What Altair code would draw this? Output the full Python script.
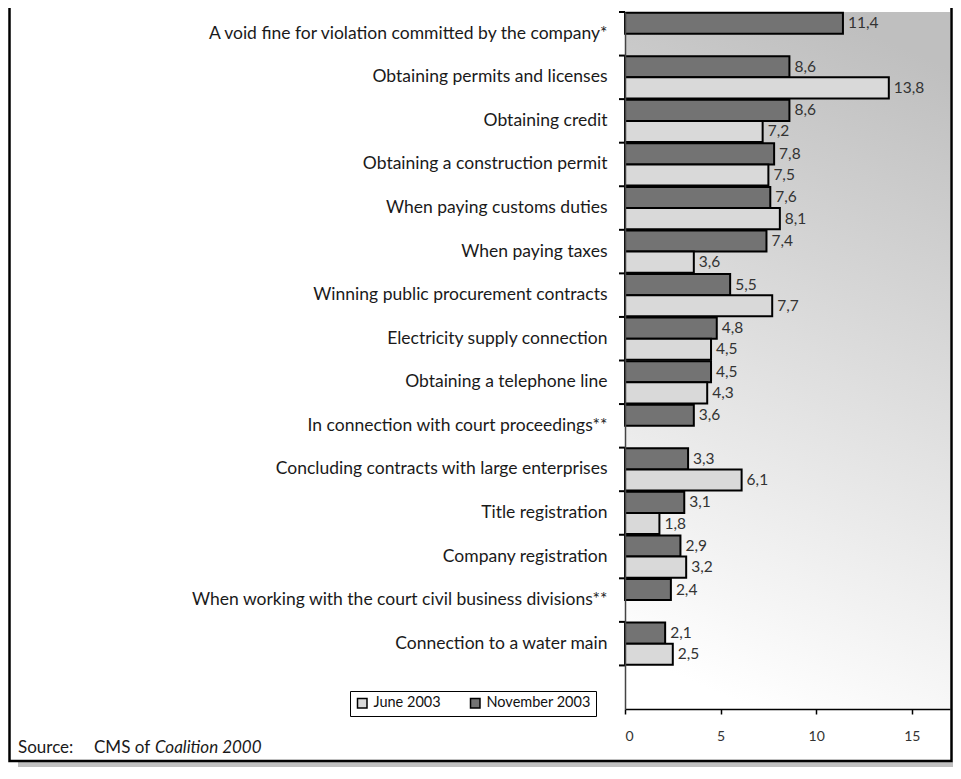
import altair as alt
import pandas as pd

categories = [
    "A void fine for violation committed by the company*",
    "Obtaining permits and licenses",
    "Obtaining credit",
    "Obtaining a construction permit",
    "When paying customs duties",
    "When paying taxes",
    "Winning public procurement contracts",
    "Electricity supply connection",
    "Obtaining a telephone line",
    "In connection with court proceedings**",
    "Concluding contracts with large enterprises",
    "Title registration",
    "Company registration",
    "When working with the court civil business divisions**",
    "Connection to a water main",
]
november_2003 = [11.4, 8.6, 8.6, 7.8, 7.6, 7.4, 5.5, 4.8, 4.5, 3.6, 3.3, 3.1, 2.9, 2.4, 2.1]
june_2003 = [None, 13.8, 7.2, 7.5, 8.1, 3.6, 7.7, 4.5, 4.3, None, 6.1, 1.8, 3.2, None, 2.5]
series = ["June 2003", "November 2003"]
series_colors = ["#d9d9d9", "#737373"]
x_ticks = [0, 5, 10, 15]

rows = []
for c, n, j in zip(categories, november_2003, june_2003):
    rows.append({"cat": c, "series": "November 2003", "value": n})
    if j is not None:
        rows.append({"cat": c, "series": "June 2003", "value": j})
df = pd.DataFrame(rows)
band_df = pd.DataFrame({"cat": categories + [""]})

FONT = "Lato"
W, H = 325, 697
PL, PT, PR, PB = 617, 4, 3, 58

y_scale = alt.Scale(domain=categories + [""], paddingInner=0, paddingOuter=0)
y_enc = alt.Y(
    "cat:N",
    title=None,
    scale=y_scale,
    axis=alt.Axis(
        ticks=False, domain=True, domainColor="#444", domainWidth=1.5, labelFontSize=17.5,
        labelPadding=18, labelLimit=1000, labelColor="#1a1a1a", labelFont=FONT, zindex=2,
    ),
)
yoff = alt.YOffset(
    "series:N",
    scale=alt.Scale(domain=["November 2003", "June 2003"], paddingInner=0, paddingOuter=0.03),
)
x_enc = alt.X(
    "value:Q",
    title=None,
    scale=alt.Scale(domain=[0, 17], nice=False),
    axis=alt.Axis(
        values=x_ticks, grid=False, tickSize=5, tickWidth=1.5, tickColor="black",
        domainColor="black", domainWidth=1.5, labelPadding=15, labelFontSize=14,
        labelColor="#333", labelFont=FONT, zindex=2,
    ),
)

deco = alt.Data(values=[{}])

background = alt.Chart(deco).mark_rect(
    fill=alt.LinearGradient(
        gradient="linear",
        stops=[alt.GradientStop(offset=0, color="#bfbfbf"),
               alt.GradientStop(offset=1, color="#ffffff")],
        x1=0.6, y1=0, x2=0.4, y2=1,
    )
).encode(x=alt.value(0), x2=alt.value(W), y=alt.value(0), y2=alt.value(H))

bars = alt.Chart(df).mark_bar(stroke="black", strokeWidth=2).encode(
    y=y_enc,
    yOffset=yoff,
    x=x_enc,
    color=alt.Color(
        "series:N",
        scale=alt.Scale(domain=series, range=series_colors),
        legend=alt.Legend(
            title=None, orient="none", legendX=-275, legendY=679, direction="horizontal",
            fillColor="white", strokeColor="black", padding=5, symbolType="square",
            symbolSize=90, symbolStrokeColor="black", symbolStrokeWidth=1.5,
            labelFontSize=14.5, labelFont=FONT, labelColor="#111", columnPadding=26,
        ),
    ),
)

band_ticks = alt.Chart(band_df).mark_rule(color="black", strokeWidth=2).encode(
    y=alt.Y("cat:N", bandPosition=0, scale=y_scale),
    x=alt.value(-6),
    x2=alt.value(0),
)

labels = alt.Chart(df).transform_calculate(
    lab="replace(format(datum.value, '.1f'), '.', ',')"
).mark_text(align="left", baseline="middle", dx=5, fontSize=15.5, font=FONT, color="#333").encode(
    y=alt.Y("cat:N", scale=y_scale),
    yOffset=yoff,
    x=alt.X("value:Q"),
    text="lab:N",
)

shadow = alt.Chart(deco).mark_rect(fill="#c0c0c0").encode(
    x=alt.value(-PL + 10), x2=alt.value(W + PR), y=alt.value(750), y2=alt.value(758)
)
frame = alt.Chart(deco).mark_rect(fill="transparent", stroke="black", strokeWidth=2.5).encode(
    x=alt.value(-PL + 1.5), x2=alt.value(W + 1.5), y=alt.value(-20), y2=alt.value(749)
)

src_style = dict(align="left", baseline="middle", fontSize=17, font=FONT, color="#1a1a1a")
src1 = alt.Chart(deco).mark_text(**src_style).encode(
    x=alt.value(-607), y=alt.value(736), text=alt.value("Source:"))
src2 = alt.Chart(deco).mark_text(**src_style).encode(
    x=alt.value(-531), y=alt.value(736), text=alt.value("CMS of"))
src3 = alt.Chart(deco).mark_text(fontStyle="italic", **src_style).encode(
    x=alt.value(-470), y=alt.value(736), text=alt.value("Coalition 2000"))

chart = alt.layer(shadow, background, bars, labels, frame, band_ticks, src1, src2, src3).properties(
    width=W, height=H,
    autosize=alt.AutoSizeParams(type="none"),
    padding={"left": PL, "top": PT, "right": PR, "bottom": PB},
).configure(background="white", font=FONT).configure_view(stroke=None)

chart.save("out.html", embed_options={"renderer": "svg", "actions": False})
